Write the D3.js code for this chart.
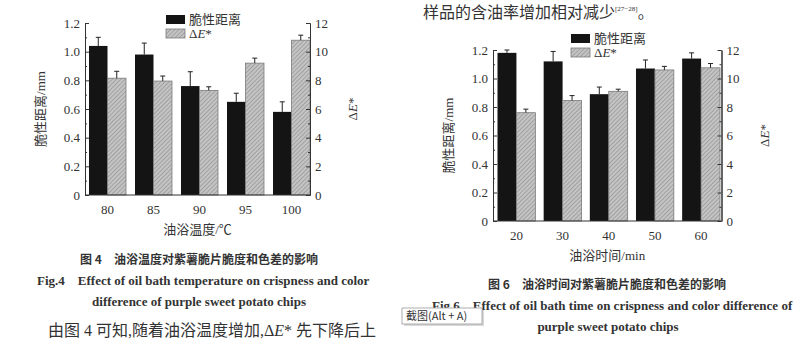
<!DOCTYPE html>
<html>
<head>
<meta charset="utf-8">
<script src="https://cdn.jsdelivr.net/npm/d3@7"></script>
<style>
  body { margin: 0; background: #fff; }
  svg { display: block; }
  .serif { font-family: "Liberation Serif", "Noto Sans CJK SC", serif; fill: #333; }
  .hei { font-family: "Noto Sans CJK SC", sans-serif; fill: #333; }
  .axis path, .axis line { stroke: #333; }
  .axis text { font-family: "Liberation Serif", serif; font-size: 13px; fill: #333; }
</style>
</head>
<body>
<svg id="page" width="800" height="352"></svg>
<script>
//////////////////// DATA ////////////////////
// fig 4: oil bath temperature
const tempCats = ["80", "85", "90", "95", "100"];
const tempCrisp = [1.04, 0.98, 0.76, 0.65, 0.58];
const tempCrispErr = [0.06, 0.08, 0.10, 0.06, 0.07];
const tempDE = [8.15, 7.95, 7.3, 9.2, 10.8];
const tempDEErr = [0.48, 0.35, 0.25, 0.35, 0.35];

// fig 6: oil bath time
const timeCats = ["20", "30", "40", "50", "60"];
const timeCrisp = [1.18, 1.12, 0.89, 1.07, 1.14];
const timeCrispErr = [0.02, 0.07, 0.05, 0.06, 0.04];
const timeDE = [7.6, 8.45, 9.1, 10.6, 10.75];
const timeDEErr = [0.25, 0.35, 0.15, 0.25, 0.3];

const leftTicks = [0, 0.2, 0.4, 0.6, 0.8, 1.0, 1.2];
const rightTicks = [0, 2, 4, 6, 8, 10, 12];

const svg = d3.select("#page");

//////////////////// HATCH PATTERN ////////////////////
const pat = svg.append("defs").append("pattern")
    .attr("id", "hatch")
    .attr("patternUnits", "userSpaceOnUse")
    .attr("width", 3).attr("height", 3)
    .attr("patternTransform", "rotate(45)");
pat.append("rect").attr("width", 3).attr("height", 3).attr("fill", "#c4c4c4");
pat.append("line").attr("x1", 0).attr("y1", 0).attr("x2", 0).attr("y2", 3)
    .attr("stroke", "#8a8a8a").attr("stroke-width", 1.2);

//////////////////// DRAW ONE CHART ////////////////////
function drawChart(o) {
    const g = svg.append("g");

    const x = d3.scaleBand().domain(o.cats).range([o.barStart, o.barEnd])
        .paddingInner(o.padIn).paddingOuter(0);
    const bw = x.bandwidth();
    const yL = d3.scaleLinear().domain([0, 1.2]).range([o.bottom, o.top]);
    const yR = d3.scaleLinear().domain([0, 12]).range([o.bottom, o.top]);

    // bars: crispness (black)
    g.selectAll(".crisp").data(o.cats).enter().append("rect")
        .attr("x", d => x(d))
        .attr("y", (d, i) => yL(o.crisp[i]))
        .attr("width", bw / 2)
        .attr("height", (d, i) => yL(0) - yL(o.crisp[i]))
        .attr("fill", "#141414");

    // bars: delta E (hatched)
    g.selectAll(".de").data(o.cats).enter().append("rect")
        .attr("x", d => x(d) + bw / 2)
        .attr("y", (d, i) => yR(o.de[i]))
        .attr("width", bw / 2)
        .attr("height", (d, i) => yR(0) - yR(o.de[i]))
        .attr("fill", "url(#hatch)")
        .attr("stroke", "#7a7a7a").attr("stroke-width", 0.8);

    // error bars
    const errs = [];
    o.cats.forEach((c, i) => {
        errs.push({ cx: x(c) + bw / 4, y0: yL(o.crisp[i]), y1: yL(o.crisp[i] + o.crispErr[i]) });
        errs.push({ cx: x(c) + 3 * bw / 4, y0: yR(o.de[i]), y1: yR(o.de[i] + o.deErr[i]) });
    });
    errs.forEach(e => {
        g.append("line").attr("x1", e.cx).attr("x2", e.cx).attr("y1", e.y0).attr("y2", e.y1)
            .attr("stroke", "#222").attr("stroke-width", 1);
        g.append("line").attr("x1", e.cx - 2.5).attr("x2", e.cx + 2.5).attr("y1", e.y1).attr("y2", e.y1)
            .attr("stroke", "#222").attr("stroke-width", 1);
    });

    // left axis
    g.append("g").attr("class", "axis")
        .attr("transform", `translate(${o.axL},0)`)
        .call(d3.axisLeft(yL).tickValues(d3.range(0.1, 1.2, 0.2)).tickSize(-2).tickFormat("").tickSizeOuter(0));
    g.append("g").attr("class", "axis")
        .attr("transform", `translate(${o.axL},0)`)
        .call(d3.axisLeft(yL).tickValues(leftTicks).tickSize(-4).tickSizeOuter(0).tickPadding(5)
            .tickFormat(d => d === 0 ? "0" : d3.format(".1f")(d)));

    // right axis
    g.append("g").attr("class", "axis")
        .attr("transform", `translate(${o.axR},0)`)
        .call(d3.axisRight(yR).tickValues(d3.range(1, 12, 2)).tickSize(-2).tickFormat("").tickSizeOuter(0));
    g.append("g").attr("class", "axis")
        .attr("transform", `translate(${o.axR},0)`)
        .call(d3.axisRight(yR).tickValues(rightTicks).tickSize(-4).tickSizeOuter(0).tickPadding(5));

    // bottom axis
    const xb = g.append("g").attr("class", "axis")
        .attr("transform", `translate(0,${o.bottom})`)
        .call(d3.axisBottom(x).tickSize(0).tickPadding(10));
    xb.select(".domain").remove();
    g.append("line").attr("x1", o.axL).attr("x2", o.axR).attr("y1", o.bottom).attr("y2", o.bottom)
        .attr("stroke", "#333");

    // axis titles
    g.append("text").attr("class", "serif").attr("font-size", 13)
        .attr("text-anchor", "middle")
        .attr("x", (o.axL + o.axR) / 2).attr("y", o.bottom + 39)
        .text(o.xTitle);
    g.append("text").attr("class", "serif").attr("font-size", 13)
        .attr("text-anchor", "middle")
        .attr("transform", `translate(${o.axL - 40},${(o.top + o.bottom) / 2}) rotate(-90)`)
        .text("脆性距离/mm");
    const rt = g.append("text").attr("class", "serif").attr("font-size", 13)
        .attr("text-anchor", "middle")
        .attr("transform", `translate(${o.axR + 47},${(o.top + o.bottom) / 2}) rotate(-90)`);
    rt.append("tspan").text("Δ");
    rt.append("tspan").attr("font-style", "italic").text("E");
    rt.append("tspan").text("*");

    // legend
    const lx = o.legX, ly = o.legY;
    g.append("rect").attr("x", lx).attr("y", ly).attr("width", 19).attr("height", 9).attr("fill", "#141414");
    g.append("rect").attr("x", lx).attr("y", ly + 14).attr("width", 19).attr("height", 9)
        .attr("fill", "url(#hatch)").attr("stroke", "#7a7a7a").attr("stroke-width", 0.8);
    g.append("text").attr("class", "serif").attr("font-size", 13)
        .attr("x", lx + 23).attr("y", ly + 9).text("脆性距离");
    const lt = g.append("text").attr("class", "serif").attr("font-size", 13)
        .attr("x", lx + 23).attr("y", ly + 23);
    lt.append("tspan").text("Δ");
    lt.append("tspan").attr("font-style", "italic").text("E");
    lt.append("tspan").text("*");
}

drawChart({
    cats: tempCats, crisp: tempCrisp, crispErr: tempCrispErr, de: tempDE, deErr: tempDEErr,
    barStart: 89, barEnd: 310, padIn: 9 / 46,
    axL: 85, axR: 310, top: 23, bottom: 195,
    legX: 166, legY: 15, xTitle: "油浴温度/℃"
});

drawChart({
    cats: timeCats, crisp: timeCrisp, crispErr: timeCrispErr, de: timeDE, deErr: timeDEErr,
    barStart: 497.5, barEnd: 720, padIn: 0.18,
    axL: 493, axR: 721.5, top: 50, bottom: 221,
    legX: 571, legY: 34, xTitle: "油浴时间/min"
});

//////////////////// SURROUNDING TEXT ////////////////////
const topLine = svg.append("text").attr("class", "serif").attr("font-size", 16)
    .attr("x", 423).attr("y", 18).text("样品的含油率增加相对减少");
topLine.append("tspan").attr("font-size", 7).attr("dy", -7).text("[27−28]");
topLine.append("tspan").attr("dy", 7).text("。");

// fig 4 captions
svg.append("text").attr("class", "hei").attr("font-size", 12).attr("font-weight", "bold")
    .attr("text-anchor", "middle").attr("x", 199).attr("y", 264)
    .text("图 4　油浴温度对紫薯脆片脆度和色差的影响");
svg.append("text").attr("class", "serif").attr("font-size", 13).attr("font-weight", "bold")
    .attr("x", 37).attr("y", 285).attr("xml:space", "preserve")
    .text("Fig.4    Effect of oil bath temperature on crispness and color");
svg.append("text").attr("class", "serif").attr("font-size", 13).attr("font-weight", "bold")
    .attr("text-anchor", "middle").attr("x", 199).attr("y", 306)
    .text("difference of purple sweet potato chips");
const body = svg.append("text").attr("class", "serif").attr("font-size", 16)
    .attr("x", 48).attr("y", 336).text("由图 4 可知,随着油浴温度增加,Δ");
body.append("tspan").attr("font-style", "italic").text("E");
body.append("tspan").text("* 先下降后上");

// fig 6 captions
svg.append("text").attr("class", "hei").attr("font-size", 12).attr("font-weight", "bold")
    .attr("text-anchor", "middle").attr("x", 607).attr("y", 289)
    .text("图 6　油浴时间对紫薯脆片脆度和色差的影响");
svg.append("text").attr("class", "serif").attr("font-size", 13).attr("font-weight", "bold")
    .attr("x", 432).attr("y", 310).attr("xml:space", "preserve")
    .text("Fig.6    Effect of oil bath time on crispness and color difference of");
svg.append("text").attr("class", "serif").attr("font-size", 13).attr("font-weight", "bold")
    .attr("text-anchor", "middle").attr("x", 608).attr("y", 331)
    .text("purple sweet potato chips");

// screenshot tooltip (covers part of the Fig.6 line, as in the source image)
svg.append("rect").attr("x", 404).attr("y", 310).attr("width", 80).attr("height", 16).attr("fill", "#d8d8d8");
svg.append("rect").attr("x", 402).attr("y", 308).attr("width", 80).attr("height", 16)
    .attr("fill", "#fff").attr("stroke", "#999").attr("stroke-width", 0.8);
svg.append("text").attr("class", "hei").attr("font-size", 11).attr("fill", "#444")
    .attr("x", 406).attr("y", 320).text("截图(Alt + A)");
</script>
</body>
</html>
